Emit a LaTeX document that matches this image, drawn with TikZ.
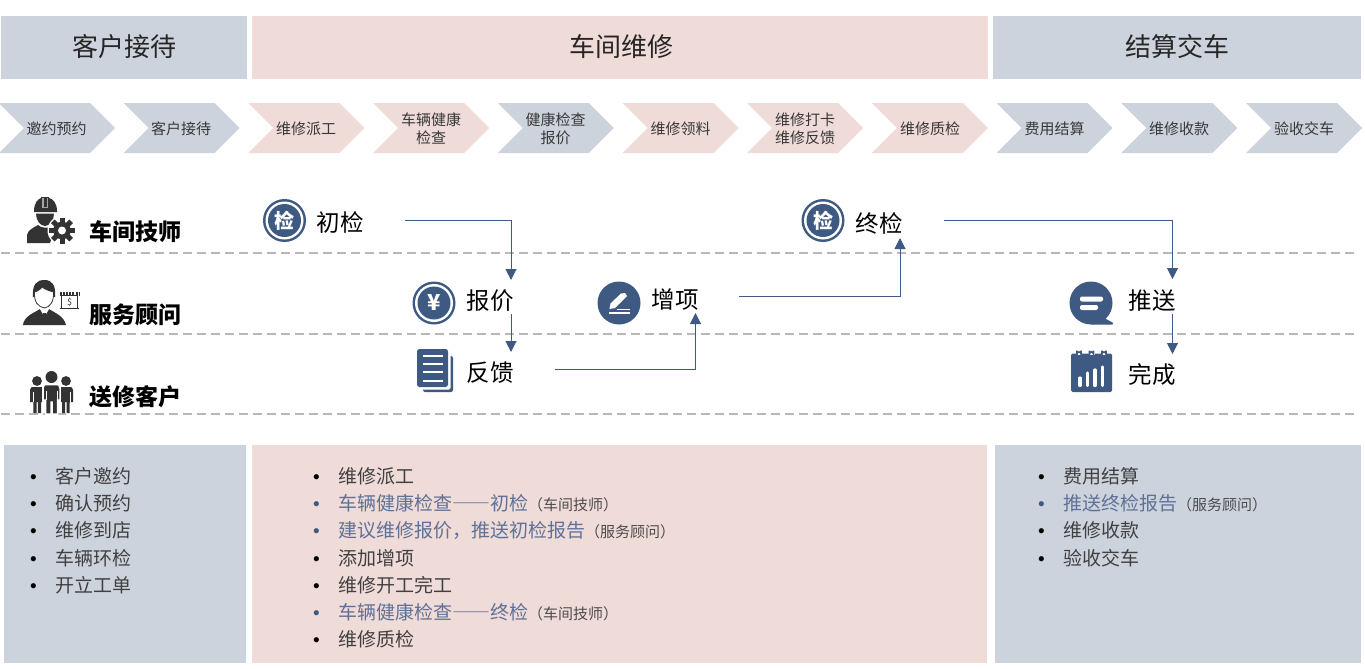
\documentclass[tikz,border=0pt]{standalone}
\usepackage{fontspec}
\setmainfont{Noto Sans CJK SC}
\newfontfamily\bulf{Liberation Sans}
\newfontfamily\fwd[RawFeature=+fwid]{Noto Sans CJK SC}
\usetikzlibrary{arrows.meta}
\definecolor{grayband}{HTML}{CDD3DD}
\definecolor{pinkband}{HTML}{EFDBD8}
\definecolor{flowblue}{HTML}{3F5A82}
\definecolor{listblue}{HTML}{5F7196}
\definecolor{ink}{HTML}{333333}
\definecolor{dashgray}{HTML}{B8B8B8}
\newcommand{\chevpts}[1]{(#1,103) -- (#1+91,103) -- (#1+116,128) -- (#1+91,153) -- (#1,153) -- (#1+25,128) -- cycle}
\newcommand{\bul}[1]{\makebox[25pt][l]{\bulf\textcolor{black}{•}}#1}
\newcommand{\bulb}[1]{\makebox[25pt][l]{\bulf\textcolor{flowblue}{•}}\textcolor{listblue}{#1}}
\newcommand{\who}[1]{{\fontsize{15}{15}\selectfont\textcolor{black!70}{#1}}}
\tikzset{
  x=1pt,y=-1pt,
  headtxt/.style={font=\fontsize{26}{30}\selectfont,text=black!85,inner sep=0pt},
  chevtxt/.style={font=\fontsize{15}{18}\selectfont,text=black!78,align=center,inner sep=0pt},
  roletxt/.style={font=\fontsize{23}{27}\selectfont\bfseries,text=black,inner sep=0pt},
  flowtxt/.style={font=\fontsize{23.5}{28}\selectfont,text=black,inner sep=0pt},
  listtxt/.style={font=\fontsize{19}{27.3}\selectfont,text=black!75,align=left,inner sep=0pt,anchor=north west},
  flowline/.style={draw=flowblue,line width=1pt,-{Triangle[length=11pt,width=11pt]}},
  lane/.style={draw=dashgray,line width=1.6pt,dash pattern=on 9pt off 5pt},
}
\begin{document}
\begin{tikzpicture}
\useasboundingbox (0,0) rectangle (1365,669);
\fill[white] (0,0) rectangle (1365,669);
% header bands
\fill[grayband] (1,16) rectangle (247,79);
\fill[pinkband] (252,16) rectangle (988,79);
\fill[grayband] (993,16) rectangle (1361,79);
\node[headtxt] (h1) at (124.5,47) {客户接待};
\node[headtxt] (h2) at (621,47) {车间维修};
\node[headtxt] (h3) at (1177,47) {结算交车};
% chevrons
\foreach \i/\c in {0/grayband,1/grayband,2/pinkband,3/pinkband,4/grayband,5/pinkband,6/pinkband,7/pinkband,8/grayband,9/grayband,10/grayband}{
  \pgfmathsetmacro{\lx}{-1+124.7*\i}
  \fill[\c] \chevpts{\lx};
}
\node[chevtxt] (c1) at (56.5,128.5) {邀约预约};
\node[chevtxt] (c2) at (181,128.5) {客户接待};
\node[chevtxt] (c3) at (306,128.5) {维修派工};
\node[chevtxt] (c4) at (431,128.5) {车辆健康\\检查};
\node[chevtxt] (c5) at (555.5,128.5) {健康检查\\报价};
\node[chevtxt] (c6) at (680.5,128.5) {维修领料};
\node[chevtxt] (c7) at (805,128.5) {维修打卡\\维修反馈};
\node[chevtxt] (c8) at (930,128.5) {维修质检};
\node[chevtxt] (c9) at (1054.5,128.5) {费用结算};
\node[chevtxt] (c10) at (1179,128.5) {维修收款};
\node[chevtxt] (c11) at (1304,128.5) {验收交车};
% lanes
\draw[lane] (1,253) -- (1355,253);
\draw[lane] (1,334) -- (1355,334);
\draw[lane] (1,414) -- (1355,414);
% role labels
\node[roletxt] (r1) at (135.5,232) {车间技师};
\node[roletxt] (r2) at (135.5,315) {服务顾问};
\node[roletxt] (r3) at (135.5,397) {送修客户};
% worker icon
\fill[ink] (34,212) -- (34,211) .. controls (34,203) and (38,199) .. (41,198) -- (41,197) -- (49,197) -- (49,198) .. controls (53,199) and (57,203) .. (57,211) -- (57,212) -- cycle;
\fill[black!35] (42,198) rectangle (48,208);
\fill[ink] (43.5,198) rectangle (46.5,206.5);
\fill[ink] (36,213.5) -- (54,213.5) .. controls (54,220) and (50,226) .. (45,226) .. controls (40,226) and (36,220) .. (36,213.5) -- cycle;
\fill[ink] (27,243) -- (27,235) .. controls (28,230) and (33,228) .. (38,225) .. controls (41,228) and (48,229) .. (52,226) -- (54,232) -- (50,243) -- cycle;
\fill[white] (62,230.5) circle (14.5);
\foreach \a in {0,45,...,315}{\fill[ink,rotate around={\a:(62,230.5)}] (59.5,217.5) rectangle (64.5,224);}
\fill[ink] (62,230.5) circle (8.8);
\fill[white] (62,230.5) circle (4);
% consultant icon
\fill[ink] (23,325) .. controls (24,316) and (34,313) .. (40,309) -- (44.5,316) -- (49,309) .. controls (55,313) and (64,316) .. (66,325) -- cycle;
\fill[white] (40,309) -- (44.5,317) -- (49,309) -- (47,307) -- (42,307) -- cycle;
\fill[ink] (43,313) -- (46,313) -- (47,322) -- (44.5,324) -- (42,322) -- cycle;
\fill[ink] (33,297) .. controls (32,284) and (37,280) .. (44.5,280) .. controls (52,280) and (56,285) .. (55,297) -- cycle;
\draw[ink,fill=white,line width=.8pt] (34.5,292) .. controls (38,291) and (41,289) .. (42,287) .. controls (46,290) and (50,291) .. (53.5,292) .. controls (54,302) and (50,307) .. (44.5,308) .. controls (38,307) and (34,302) .. (34.5,292) -- cycle;
\draw[ink,line width=.7pt] (61.5,295) rectangle (77.5,308);
\draw[ink,line width=.7pt] (59.5,308.5) -- (79,308.5);
\draw[ink,line width=3.5pt,dash pattern=on 2pt off 1.2pt] (59.5,294) -- (79,294);
\node[inner sep=0pt,text=ink,font=\fontsize{9}{9}\selectfont] (dollar) at (69.5,302) {\$};
% people icon
\fill[ink] (37,381) circle (4.9);
\fill[ink] (30,390) .. controls (30,387) and (32,387) .. (33,387) -- (42,387) -- (42,402) -- (41,402) -- (41,413) -- (37.8,413) -- (37.8,402) -- (36.5,402) -- (36.5,413) -- (33.3,413) -- (33.3,402) -- (30,402) -- cycle;
\fill[ink] (66,381) circle (4.9);
\fill[ink] (73,390) .. controls (73,387) and (71,387) .. (70,387) -- (61,387) -- (61,402) -- (62,402) -- (62,413) -- (65.2,413) -- (65.2,402) -- (66.5,402) -- (66.5,413) -- (69.7,413) -- (69.7,402) -- (73,402) -- cycle;
\draw[white,line width=1.5pt,fill=ink] (43,388) .. controls (43,385) and (45,384.5) .. (46,384.5) -- (57,384.5) .. controls (58,384.5) and (60,385) .. (60,388) -- (60,400) -- (57.5,400) -- (57.5,414) -- (52,414) -- (52,402) -- (51,402) -- (51,414) -- (45.5,414) -- (45.5,400) -- (43,400) -- cycle;
\draw[white,line width=.6pt] (46,391) -- (46,400) (57,391) -- (57,400) (33.2,392) -- (33.2,402) (69.8,392) -- (69.8,402);
\fill[ink] (51.5,377) circle (6);
% ring badges
\foreach \cx/\cy in {284.5/220.5,823/220.5,434/303}{
  \fill[flowblue] (\cx,\cy) circle (21.5);
  \fill[white] (\cx,\cy) circle (19);
  \fill[flowblue] (\cx,\cy) circle (16.5);
}
\node[inner sep=0pt,text=white,font=\fontsize{20}{20}\selectfont\bfseries] (b1) at (284.5,220.5) {检};
\node[inner sep=0pt,text=white,font=\fontsize{20}{20}\selectfont\bfseries] (b2) at (823,220.5) {检};
\node[inner sep=0pt,text=white,font=\fontsize{22}{22}\selectfont\bfseries] (b3) at (434,302.5) {¥};
% pen badge
\fill[flowblue] (619,303) circle (21.5);
\fill[white] (609.5,309) -- (610.5,303.5) -- (621,293.5) -- (625,293) -- (627,296) -- (615,308) -- cycle;
\fill[white] (609,312) rectangle (630,314);
\fill[white] (617,308.5) rectangle (630,310.2);
% speech icon
\fill[flowblue] (1091,303) circle (21.5);
\fill[flowblue] (1104,318) -- (1112.5,322.5) .. controls (1114,324) and (1113,324.5) .. (1112,324.5) -- (1091,324.5) -- cycle;
\fill[white,rounded corners=2pt] (1080,296.5) rectangle (1103,301.5);
\fill[white,rounded corners=2pt] (1080,305) rectangle (1098,310);
% document icon
\fill[flowblue,rounded corners=2pt] (423,356) rectangle (453,392);
\fill[white,rounded corners=1.5pt] (420,352) rectangle (450.5,389.5);
\fill[flowblue,rounded corners=2.5pt] (417,349) rectangle (448,387);
\foreach \ly in {356,364,372,381}{\fill[white] (423,\ly-1) rectangle (443,\ly+1);}
% calendar icon
\fill[flowblue,rounded corners=1.5pt] (1071,353.5) rectangle (1112,392);
\foreach \lx in {1079,1091.5,1104}{
  \fill[white] (\lx-3,350) rectangle (\lx+3,355);
  \draw[flowblue,line width=1.6pt] (\lx-2,350.5) -- (\lx-2,354) arc[start angle=180,end angle=360,radius=2] -- (\lx+2,350.5);
}
\foreach \bx/\by in {1080/378,1087.5/373,1095/370,1102.5/367}{
  \draw[white,line width=3.2pt,line cap=round] (\bx,385.5) -- (\bx,\by);
}
% flow labels
\node[flowtxt] (chujian) at (340,222.5) {初检};
\node[flowtxt] (baojia) at (490,300.5) {报价};
\node[flowtxt] (fankui) at (490,372.5) {反馈};
\node[flowtxt] (zengxiang) at (675,299.5) {增项};
\node[flowtxt] (zhongjian) at (879,223.5) {终检};
\node[flowtxt] (tuisong) at (1152,300.5) {推送};
\node[flowtxt] (wancheng) at (1152,374.5) {完成};
% connectors
\coordinate (a1s) at ([xshift=41pt,yshift=2.5pt]chujian.east);
\coordinate (a1e) at (511,280);
\coordinate (a2s) at (511,314);
\coordinate (a2e) at (511,352);
\coordinate (a3s) at ([xshift=41.5pt,yshift=3pt]fankui.east);
\coordinate (a3e) at (695.5,313);
\coordinate (a4s) at ([xshift=40.5pt,yshift=3.5pt]zengxiang.east);
\coordinate (a4e) at (900,238);
\coordinate (a5s) at ([xshift=41pt,yshift=3.5pt]zhongjian.east);
\coordinate (a5e) at (1172.5,279);
\coordinate (a6s) at (1172.5,314);
\coordinate (a6e) at (1172.5,354);
\draw[flowline] (a1s) -| (a1e);
\draw[flowline] (a2s) -- (a2e);
\draw[flowline] (a3s) -| (a3e);
\draw[flowline] (a4s) -| (a4e);
\draw[flowline] (a5s) -| (a5e);
\draw[flowline] (a6s) -- (a6e);
% bottom panels
\fill[grayband] (4,445) rectangle (246,663);
\fill[pinkband] (252,445) rectangle (987,663);
\fill[grayband] (995,445) rectangle (1361,663);
\node[listtxt] (l1) at (30,467) {\bul{客户邀约}\\\bul{确认预约}\\\bul{维修到店}\\\bul{车辆环检}\\\bul{开立工单}};
\node[listtxt] (l2) at (313,467) {\bul{维修派工}\\
\bulb{车辆健康检查{\fwd ——}初检}\who{（车间技师）}\\
\bulb{建议维修报价，推送初检报告}\who{（服务顾问）}\\
\bul{添加增项}\\\bul{维修开工完工}\\
\bulb{车辆健康检查{\fwd ——}终检}\who{（车间技师）}\\
\bul{维修质检}};
\node[listtxt] (l3) at (1038,467) {\bul{费用结算}\\
\bulb{推送终检报告}\who{（服务顾问）}\\
\bul{维修收款}\\\bul{验收交车}};
\end{tikzpicture}
\end{document}
